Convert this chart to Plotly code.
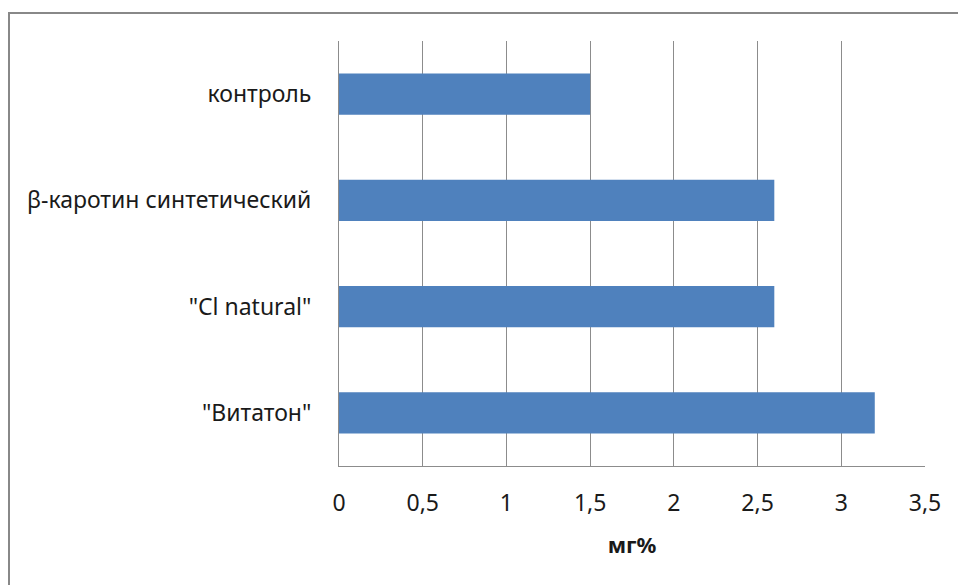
import plotly.graph_objects as go

# Carotenoid content by treatment group, mg%
categories = ['контроль', 'β-каротин синтетический', '"Cl natural"', '"Витатон"']
values = [1.5, 2.6, 2.6, 3.2]
x_ticks = [0, 0.5, 1, 1.5, 2, 2.5, 3, 3.5]
x_tick_labels = ['0', '0,5', '1', '1,5', '2', '2,5', '3', '3,5']

FONT = "Noto Sans"
GRID = "#8c8c8c"
TEXT = "#1a1a1a"

fig = go.Figure(
    go.Bar(
        x=values,
        y=categories,
        orientation="h",
        marker=dict(color="#4F81BD", line=dict(width=0)),
        hoverinfo="x+y",
    )
)

fig.update_layout(
    width=958,
    height=585,
    margin=dict(l=339, r=33, t=41, b=119),
    paper_bgcolor="white",
    plot_bgcolor="white",
    showlegend=False,
    bargap=0.61,
    font=dict(family=FONT, size=23, color=TEXT),
    separators=", ",
    shapes=[
        # chart frame
        dict(
            type="rect", xref="paper", yref="paper",
            x0=(9 - 339) / 586, x1=1.2, y0=-0.4, y1=(466 - 13) / 425,
            line=dict(color="#888888", width=2), fillcolor="rgba(0,0,0,0)",
            layer="below",
        )
    ],
)

fig.update_xaxes(
    range=[0, 3.5],
    tickmode="array",
    tickvals=x_ticks,
    ticktext=x_tick_labels,
    showgrid=True,
    gridcolor=GRID,
    gridwidth=1,
    showline=True,
    linecolor=GRID,
    linewidth=1,
    zeroline=False,
    ticks="",
    ticklabelstandoff=16,
    tickfont=dict(family=FONT, size=23, color=TEXT),
    title=dict(text="<b>мг%</b>", font=dict(family=FONT, size=22, color=TEXT), standoff=21),
)

fig.update_yaxes(
    autorange="reversed",
    showgrid=False,
    showline=True,
    linecolor=GRID,
    linewidth=1,
    ticks="",
    ticklabelstandoff=22,
    tickfont=dict(family=FONT, size=23, color=TEXT),
)

fig.write_html("out.html")
